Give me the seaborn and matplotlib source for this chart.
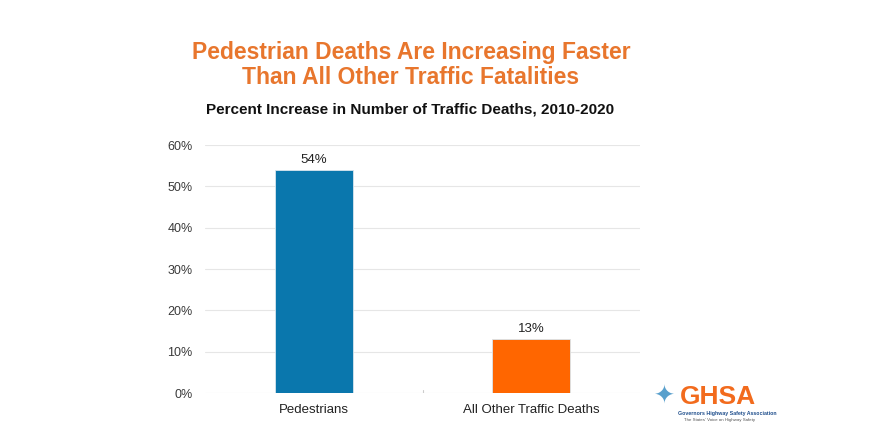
import matplotlib
matplotlib.use("Agg")
import matplotlib.pyplot as plt
import seaborn as sns
import pandas as pd

categories = ["Pedestrians", "All Other Traffic Deaths"]
values = [54, 13]
labels = ["54%", "13%"]
colors = ["#0A77AD", "#FF6600"]
yticks = [0, 10, 20, 30, 40, 50, 60]

sns.set_theme(style="white")
plt.rcParams['font.family'] = ['Liberation Sans', 'DejaVu Sans']

df = pd.DataFrame({"cat": categories, "val": values})

fig = plt.figure(figsize=(8.82, 4.45), dpi=100)
ax = fig.add_axes([205/882, 1 - 393/445, 435/882, (393 - 145)/445])

sns.barplot(data=df, x="cat", y="val", hue="cat", palette=colors, legend=False,
            width=0.36, ax=ax, edgecolor="#d9e6ee", linewidth=0.6, saturation=1)

ax.set_ylim(0, 60)
ax.set_xlim(-0.5, 1.5)
ax.set_yticks(yticks)
ax.set_yticklabels([f"{t}%" for t in yticks], color="#3a3a3a", fontsize=9)
ax.set_xticks([0, 1])
ax.set_xticklabels(categories, color="#222222", fontsize=9.5)
ax.tick_params(axis="x", length=0, pad=8)
ax.tick_params(axis="y", length=0, pad=9)
ax.set_xlabel("")
ax.set_ylabel("")
ax.yaxis.grid(True, color="#e6e6e6", linewidth=0.8)
ax.set_axisbelow(True)
for s in ax.spines.values():
    s.set_visible(False)
ax.axvline(0.5, ymin=0, ymax=0.012, color="#cccccc", linewidth=0.8)

for i, (v, lab) in enumerate(zip(values, labels)):
    ax.text(i, v + 1.0, lab, ha="center", va="bottom", fontsize=9.5, color="#222222")

fig.text(411/882, 1 - 52/445, "Pedestrian Deaths Are Increasing Faster", ha="center", va="center",
         fontsize=16.5, fontweight="bold", color="#E8762D")
fig.text(411/882, 1 - 78/445, "Than All Other Traffic Fatalities", ha="center", va="center",
         fontsize=16.5, fontweight="bold", color="#E8762D")
fig.text(410/882, 1 - 109/445, "Percent Increase in Number of Traffic Deaths, 2010-2020", ha="center",
         va="center", fontsize=11, fontweight="bold", color="#111111")

# logo approximation
fig.text(718/882, 1 - 397/445, "GHSA", ha="center", va="center", fontsize=19, fontweight="bold",
         color="#F26B1D")
fig.text(664/882, 1 - 397/445, "\u2726", ha="center", va="center", fontsize=18,
         color="#3C8FC4", family=["DejaVu Sans"], alpha=0.85)
fig.text(727/882, 1 - 414/445, "Governors Highway Safety Association", ha="center", va="center",
         fontsize=3.8, fontweight="bold", color="#1F4E8C")
fig.text(720/882, 1 - 420/445, "The States' Voice on Highway Safety", ha="center", va="center",
         fontsize=3.2, color="#555555")

fig.savefig("out.png", dpi=100, facecolor="white")
